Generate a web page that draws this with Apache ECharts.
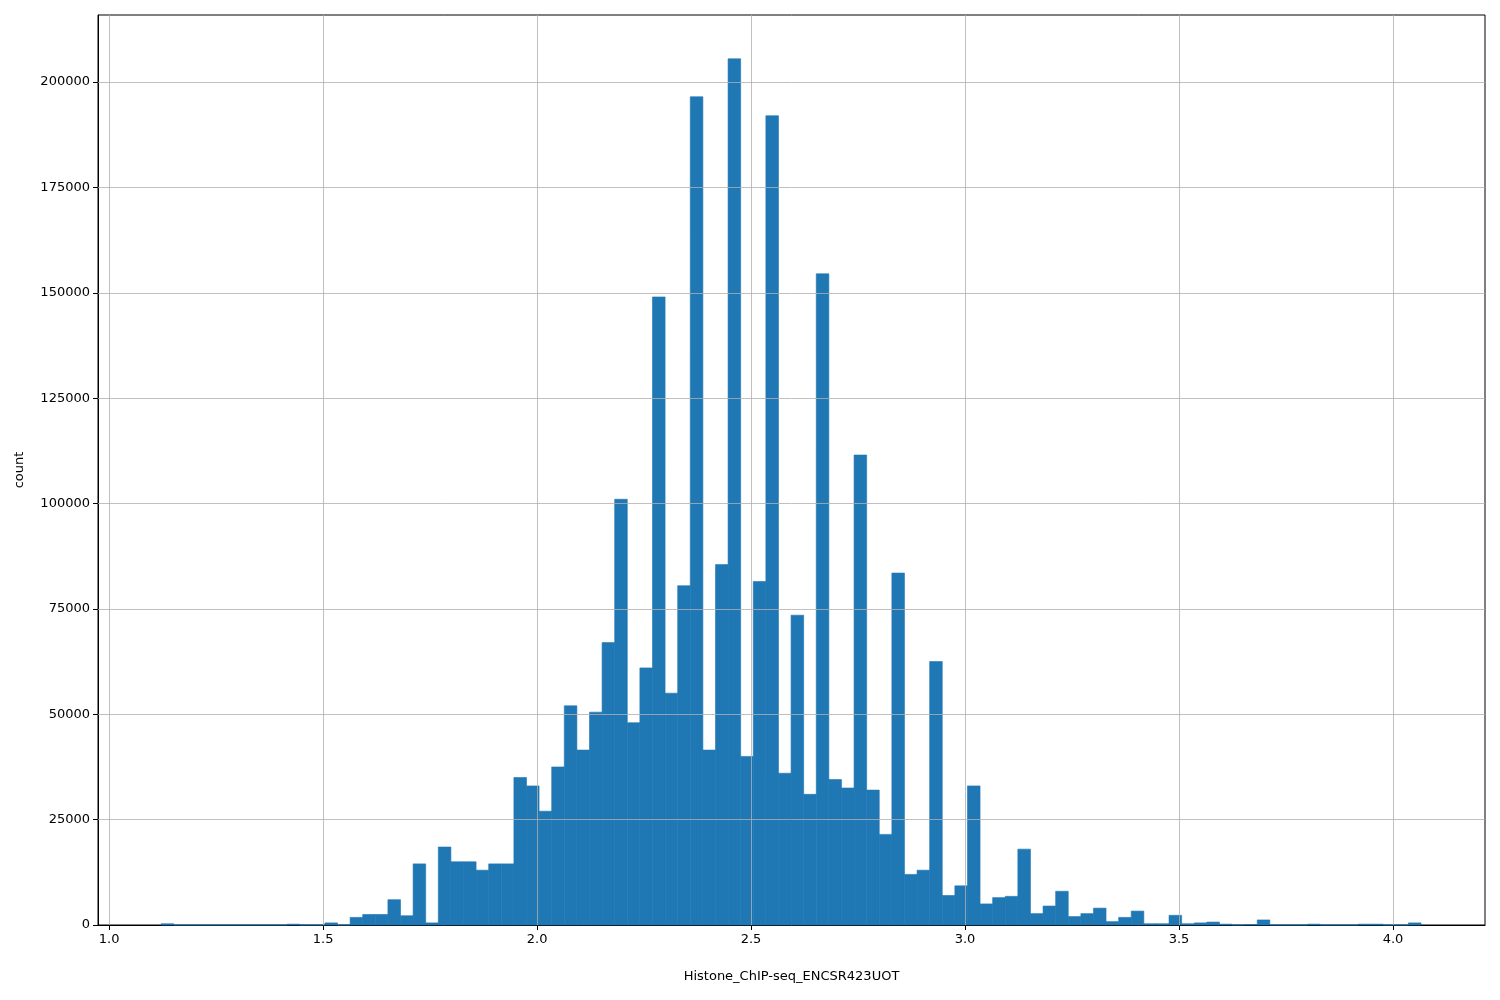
<!DOCTYPE html>
<html><head><meta charset="utf-8">
<script src="https://cdn.jsdelivr.net/npm/echarts@6/dist/echarts.min.js"></script>
<style>html,body{margin:0;padding:0;background:#fff}#c{width:1500px;height:1000px}</style>
</head><body><div id="c"></div>
<script>
const binStart = 1.1215;
const binWidth = 0.02944;
const counts = [300,0,0,0,0,0,0,0,0,0,200,0,0,500,0,1800,2500,2500,6000,2200,
14500,500,18500,15000,15000,13000,14500,14500,35000,33000,27000,37500,52000,41500,50500,67000,101000,48000,61000,149000,
55000,80500,196500,41500,85500,205500,40000,81500,192000,36000,73500,31000,154500,34500,32500,111500,32000,21500,83500,12000,
13000,62500,7000,9300,33000,5000,6500,6800,18000,2700,4500,8000,2000,2700,4000,800,1800,3300,300,300,
2300,300,500,700,200,0,100,1200,0,0,0,200,0,0,0,200,200,0,0,500];
const xTicks = [1.0,1.5,2.0,2.5,3.0,3.5,4.0];
const yTicks = [0,25000,50000,75000,100000,125000,150000,175000,200000];

const data = counts.map((c,i)=>[binStart+i*binWidth, binStart+(i+1)*binWidth, c]);
const chart = echarts.init(document.getElementById('c'));
const gl = {color:'#b0b0b0',width:0.8,type:'solid'};
chart.setOption({
  animation:false,
  grid:{left:98,right:15,top:15,bottom:75,show:true,borderColor:'#000',borderWidth:1,backgroundColor:'transparent'},
  xAxis:{type:'value',min:0.974,max:4.215,name:'Histone_ChIP-seq_ENCSR423UOT',nameLocation:'middle',nameGap:45,
    nameTextStyle:{fontFamily:'DejaVu Sans',fontSize:13,color:'#000'},
    axisLine:{show:true,onZero:false,lineStyle:{color:'#000'}},
    axisTick:{show:true,customValues:xTicks,length:5,lineStyle:{color:'#000'}},
    axisLabel:{customValues:xTicks,formatter:v=>v.toFixed(1),fontFamily:'DejaVu Sans',fontSize:13,color:'#000',margin:8},
    splitLine:{show:false}},
  yAxis:{type:'value',min:0,max:215896,name:'count',nameLocation:'middle',nameGap:72,
    nameTextStyle:{fontFamily:'DejaVu Sans',fontSize:13,color:'#000'},
    axisLine:{show:true,lineStyle:{color:'#000'}},
    axisTick:{show:true,customValues:yTicks,length:5,lineStyle:{color:'#000'}},
    axisLabel:{customValues:yTicks,formatter:v=>String(v),fontFamily:'DejaVu Sans',fontSize:13,color:'#000',margin:8},
    splitLine:{show:false}},
  series:[{
    type:'custom',data:data,encode:{x:[0,1],y:2},z:2,
    renderItem:(params,api)=>{
      const p0=api.coord([api.value(0),0]);const p1=api.coord([api.value(1),api.value(2)]);
      return {type:'rect',shape:{x:p0[0],y:p1[1],width:p1[0]-p0[0],height:p0[1]-p1[1]},style:{fill:'#1f77b4',stroke:'#1f77b4',lineWidth:0.6}};
    }
  },{
    type:'line',data:[],z:5,silent:true,
    markLine:{silent:true,symbol:'none',label:{show:false},lineStyle:gl,animation:false,
      data:[...xTicks.map(v=>({xAxis:v})),...yTicks.slice(1).map(v=>({yAxis:v}))]}
  }]
});
</script></body></html>
